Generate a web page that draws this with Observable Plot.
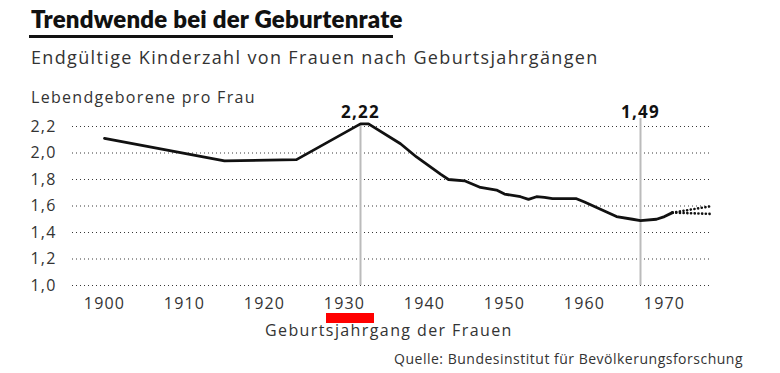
<!DOCTYPE html>
<html>
<head>
<meta charset="utf-8">
<script src="https://cdn.jsdelivr.net/npm/d3@7"></script>
<script src="https://cdn.jsdelivr.net/npm/@observablehq/plot@0.6"></script>
<style>
  body { margin: 0; background: #fff; font-family: "Open Sans", Lato, sans-serif; color: #333; }
  #wrap { position: relative; width: 780px; height: 373px; overflow: hidden; }
  .abs { position: absolute; white-space: nowrap; }
  #title { left: 31px; top: 4px; font-family: Lato, sans-serif; font-size: 24px; font-weight: 800; color: #111; letter-spacing: 0.2px; }
  #rule { left: 29px; top: 35px; width: 364px; height: 3px; background: #111; }
  #subtitle { left: 31px; top: 45px; font-size: 18px; font-weight: 400; color: #333; letter-spacing: 1.35px; }
  #ylabel { left: 31px; top: 86px; font-size: 16px; color: #333; letter-spacing: 1.3px; }
  #xlabel { left: 265px; top: 319px; font-size: 16px; color: #333; letter-spacing: 1.4px; }
  #source { right: 37px; top: 349px; font-size: 14px; color: #333; letter-spacing: 0.5px; }
  #redbar { left: 326px; top: 313px; width: 48px; height: 10px; background: #f00; }
  #chart { left: 0; top: 80px; }
</style>
</head>
<body>
<div id="wrap">
  <div class="abs" id="title">Trendwende bei der Geburtenrate</div>
  <div class="abs" id="rule"></div>
  <div class="abs" id="subtitle">Endgültige Kinderzahl von Frauen nach Geburtsjahrgängen</div>
  <div class="abs" id="ylabel">Lebendgeborene pro Frau</div>
  <div class="abs" id="chart"></div>
  <div class="abs" id="redbar"></div>
  <div class="abs" id="xlabel">Geburtsjahrgang der Frauen</div>
  <div class="abs" id="source">Quelle: Bundesinstitut für Bevölkerungsforschung</div>
</div>
<script>
// Cohort (birth year) and completed fertility
const years  = [1900, 1915, 1924, 1932, 1933, 1937, 1939, 1942, 1943, 1945, 1947, 1949, 1950, 1952, 1953, 1954, 1955, 1956, 1959, 1960, 1962, 1964, 1966, 1967, 1969, 1970, 1971];
const values = [2.11, 1.94, 1.95, 2.22, 2.22, 2.07, 1.97, 1.84, 1.80, 1.79, 1.74, 1.72, 1.69, 1.67, 1.65, 1.67, 1.665, 1.655, 1.655, 1.63, 1.575, 1.52, 1.50, 1.49, 1.50, 1.52, 1.55];

// Projections (dotted)
const projYears = [1971, 1976];
const projHigh  = [1.55, 1.60];
const projLow   = [1.55, 1.54];

// Highlighted cohorts
const markYears  = [1932, 1967];
const markValues = [2.22, 1.49];
const markTops   = [2.22, 2.26];
const markLabels = ["2,22", "1,49"];

const yTicks = [1.0, 1.2, 1.4, 1.6, 1.8, 2.0, 2.2];
const xTicks = [1900, 1910, 1920, 1930, 1940, 1950, 1960, 1970];

const series = years.map((y, i) => ({year: y, value: values[i]}));
const high = projYears.map((y, i) => ({year: y, value: projHigh[i]}));
const low  = projYears.map((y, i) => ({year: y, value: projLow[i]}));
const marks = markYears.map((y, i) => ({year: y, value: markValues[i], top: markTops[i], label: markLabels[i]}));

const fmt = d => d3.format(".1f")(d).replace(".", ",");

const chart = Plot.plot({
  width: 780,
  height: 270,
  marginLeft: 72,
  marginRight: 68,
  marginTop: 46,
  marginBottom: 65,
  style: {fontFamily: "'Open Sans', sans-serif", fontSize: "16px", color: "#333", background: "transparent", letterSpacing: "1.2px"},
  x: {domain: [1896, 1976]},
  y: {domain: [1.0, 2.2]},
  marks: [
    Plot.gridY(yTicks, {stroke: "#222", strokeOpacity: 0.9, strokeWidth: 1, strokeDasharray: "1,3"}),
    Plot.ruleX(marks, {x: "year", y1: 1.0, y2: "top", stroke: "#bbb", strokeWidth: 2}),
    Plot.axisY(yTicks, {tickSize: 0, tickPadding: 16, tickFormat: fmt, label: null, fontSize: 16}),
    Plot.axisX(xTicks, {tickSize: 0, tickPadding: 12, tickFormat: d => String(d), label: null, fontSize: 16}),
    Plot.line(high, {x: "year", y: "value", stroke: "#111", strokeWidth: 2.6, strokeDasharray: "0.1,3.6", strokeLinecap: "round"}),
    Plot.line(low, {x: "year", y: "value", stroke: "#111", strokeWidth: 2.6, strokeDasharray: "0.1,3.6", strokeLinecap: "round"}),
    Plot.line(series, {x: "year", y: "value", stroke: "#111", strokeWidth: 2.8, strokeLinejoin: "round"}),
    Plot.text(marks, {x: "year", text: "label", frameAnchor: "top", dy: -21, fontWeight: "bold", fontSize: 17, fill: "#111"})
  ]
});
document.getElementById("chart").appendChild(chart);
</script>
</body>
</html>
